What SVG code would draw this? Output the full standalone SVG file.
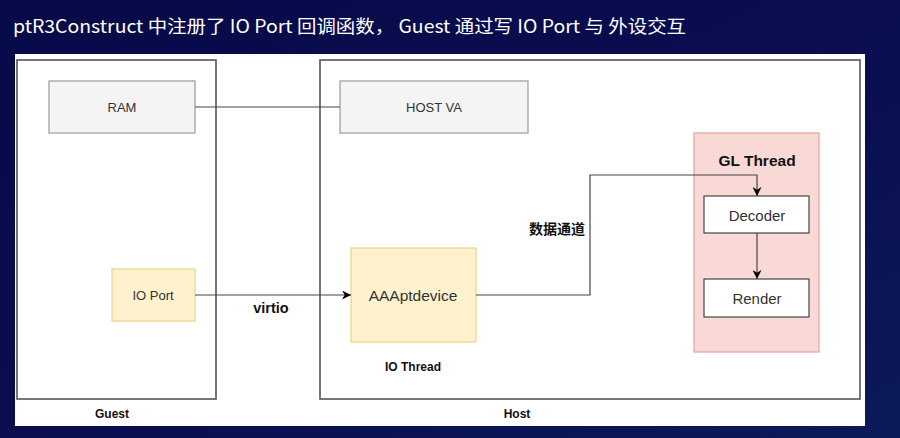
<svg xmlns="http://www.w3.org/2000/svg" width="900" height="438" viewBox="0 0 900 438">
<defs>
<linearGradient id="bg" x1="0" y1="0" x2="1" y2="1">
<stop offset="0" stop-color="#070a48"/>
<stop offset="0.6" stop-color="#0a0f52"/>
<stop offset="1" stop-color="#0c1a5a"/>
</linearGradient>
<marker id="arr" viewBox="0 0 10 10" refX="10" refY="5" markerWidth="9" markerHeight="9" markerUnits="userSpaceOnUse" orient="auto">
<path d="M0,0 L10,5 L0,10 L3,5 Z" fill="#000"/>
</marker>
<style>
.frame{fill:#fff;stroke:#555;stroke-width:1.6}
.gray{fill:#f4f4f4;stroke:#999;stroke-width:1.2}
.yel{fill:#fff2cc;stroke:#e8d28a;stroke-width:1.2}
.pink{fill:#f9d9d6;stroke:#e6a09c;stroke-width:1.2}
.wbox{fill:#fff;stroke:#444;stroke-width:1.2}
.t{font-family:"Liberation Sans",Arial,sans-serif;font-size:13px;fill:#333;text-anchor:middle;dominant-baseline:central}
.b{font-family:"Liberation Sans",Arial,sans-serif;font-size:12px;font-weight:bold;fill:#111;text-anchor:middle;dominant-baseline:central}
.conn{fill:none;stroke:#444;stroke-width:1.2}
</style>
</defs>
<rect width="900" height="438" fill="url(#bg)"/>
<text x="13" y="33" font-family="'Noto Sans CJK SC','Noto Sans',sans-serif" font-size="18" fill="#fff" textLength="673" lengthAdjust="spacingAndGlyphs">ptR3Construct 中注册了 IO Port 回调函数， Guest 通过写 IO Port 与 外设交互</text>
<rect x="15" y="54" width="850" height="372" fill="#fff"/>

<g id="guest">
<rect class="frame" x="17" y="60" width="199" height="339"/>
<text class="b" x="112" y="414">Guest</text>
</g>
<g id="host">
<rect class="frame" x="320" y="60" width="540" height="339"/>
<text class="b" x="517" y="414">Host</text>
</g>
<g id="ram">
<rect class="gray" x="49" y="81" width="146" height="52"/>
<text class="t" x="122" y="107">RAM</text>
</g>
<g id="hostva">
<rect class="gray" x="340" y="81" width="188" height="52"/>
<text class="t" x="434" y="107">HOST VA</text>
</g>
<g id="ioport">
<rect class="yel" x="112" y="269" width="83" height="52"/>
<text class="t" x="153" y="295">IO Port</text>
</g>
<g id="aaaptdevice">
<rect class="yel" x="351" y="248" width="125" height="94"/>
<text class="t" x="413" y="295" style="font-size:15.5px">AAAptdevice</text>
<text class="b" x="413" y="367">IO Thread</text>
</g>
<g id="glthread">
<rect class="pink" x="694" y="133" width="125" height="219"/>
<text class="b" x="757" y="160" style="font-size:15.5px">GL Thread</text>
</g>
<g id="decoder">
<rect class="wbox" x="704" y="196" width="105" height="37"/>
<text class="t" x="757" y="215" style="font-size:15px">Decoder</text>
</g>
<g id="render">
<rect class="wbox" x="704" y="279" width="105" height="38"/>
<text class="t" x="757" y="298" style="font-size:15px">Render</text>
</g>

<g id="connectors">
<path class="conn" d="M195,107 H340" stroke="#999"/>
<path class="conn" d="M195,295 H351" marker-end="url(#arr)"/>
<path class="conn" d="M476,295 H590 V175 H757 V196" marker-end="url(#arr)"/>
<path class="conn" d="M757,233 V279" marker-end="url(#arr)"/>
<text class="b" x="271" y="308" style="font-size:14.5px">virtio</text>
<text x="557" y="228" font-family="'Noto Sans CJK SC',sans-serif" font-size="14" font-weight="bold" fill="#111" text-anchor="middle" dominant-baseline="central">数据通道</text>
</g>
</svg>
